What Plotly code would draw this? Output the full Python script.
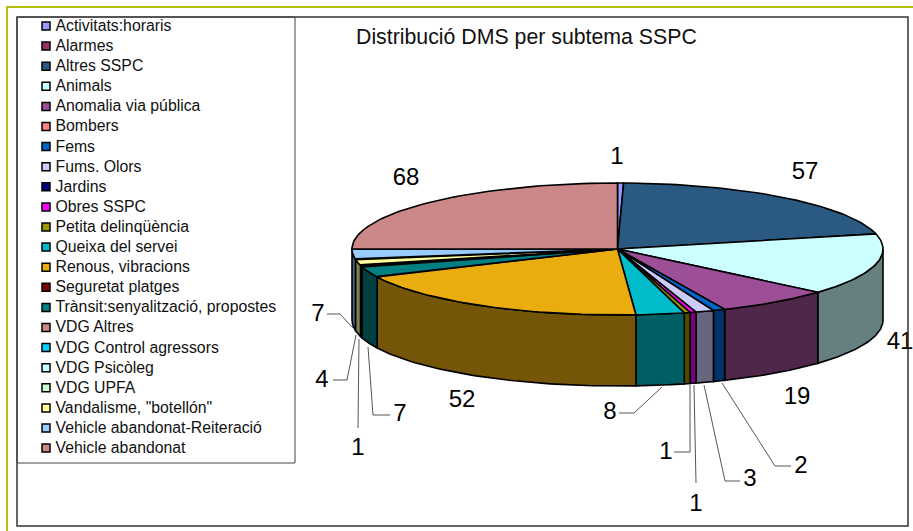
# -*- coding: utf-8 -*-
"""Distribució DMS per subtema SSPC: tilted pie with a thick rim."""
import numpy as np
import plotly.graph_objects as go

WIDTH, HEIGHT = 913, 531

categories = [
    'Activitats:horaris', 'Alarmes', 'Altres SSPC', 'Animals', 'Anomalia via pública',
    'Bombers', 'Fems', 'Fums. Olors', 'Jardins', 'Obres SSPC', 'Petita delinqüència',
    'Queixa del servei', 'Renous, vibracions', 'Seguretat platges',
    'Trànsit:senyalització, propostes', 'VDG Altres', 'VDG Control agressors',
    'VDG Psicòleg', 'VDG UPFA', 'Vandalisme, "botellón"',
    'Vehicle abandonat-Reiteració', 'Vehicle abandonat',
]
values = [1, 0, 57, 41, 19, 0, 2, 3, 0, 1, 1, 8, 52, 0, 7, 0, 0, 1, 0, 4, 7, 68]
colors = [
    '#9999FF', '#993366', '#2A5A82', '#CCFFFF', '#9C4F96', '#FF8080', '#0066CC',
    '#CCCCFF', '#000080', '#FF00FF', '#999900', '#00BCCB', '#EAAD10', '#800000',
    '#008080', '#CC8888', '#00CCFF', '#CCFFFF', '#CCFFCC', '#FFFF99', '#99CCFF',
    '#CC8888',
]

# pie geometry in page pixels
CX, CY, RX, RY, DEPTH = 617.5, 249, 265.5, 66, 71


def darker(hex_color):
    r, g, b = (int(hex_color[i:i + 2], 16) for i in (1, 3, 5))
    return f'rgb({r // 2},{g // 2},{b // 2})'


def rim(a0, a1, n=60):
    # angles clockwise from the top of the ellipse
    t = np.linspace(a0, a1, n)
    return CX + RX * np.sin(t), CY - RY * np.cos(t)


fig = go.Figure()

total = sum(values)
ends = np.cumsum(values) / total * 2 * np.pi
starts = ends - np.array(values) / total * 2 * np.pi

# 1. Side wall, only the part of each slice facing the viewer
for v, c, a0, a1 in zip(values, colors, starts, ends):
    lo, hi = max(a0, np.pi / 2), min(a1, 3 * np.pi / 2)
    if v == 0 or hi <= lo:
        continue
    x, y = rim(lo, hi)
    fig.add_trace(go.Scatter(
        x=np.r_[x, x[::-1], x[0]], y=np.r_[y, y[::-1] + DEPTH, y[0]],
        mode='lines', fill='toself', fillcolor=darker(c),
        line=dict(color='black', width=1.6),
    ))

# 2. Top face
for v, c, a0, a1 in zip(values, colors, starts, ends):
    if v == 0:
        continue
    x, y = rim(a0, a1)
    fig.add_trace(go.Scatter(
        x=np.r_[CX, x, CX], y=np.r_[CY, y, CY],
        mode='lines', fill='toself', fillcolor=c,
        line=dict(color='black', width=1.6),
    ))

# 3. Leader lines
leaders = [
    ([722, 775, 791], [383, 466, 466]),
    ([704, 725, 740], [385, 481, 481]),
    ([694, 696], [385, 483]),
    ([690, 690, 674], [385, 452, 452]),
    ([662, 634, 619], [387, 413, 413]),
    ([368, 373, 390], [347, 415, 415]),
    ([359, 358], [339, 428]),
    ([356, 347, 333], [335, 380, 380]),
    ([353, 340, 327], [328, 314, 314]),
]
for lx, ly in leaders:
    fig.add_trace(go.Scatter(x=lx, y=ly, mode='lines', line=dict(color='#555555', width=1)))

# 4. Value labels
label_text = ['1', '57', '41', '19', '2', '3', '1', '1', '8', '52', '7', '1', '4', '7', '68']
label_x = [617, 805, 900, 797, 801, 750, 696, 666, 610, 462, 400, 358, 322, 318, 406]
label_y = [158, 173, 343, 398, 467, 480, 505, 453, 413, 401, 415, 449, 381, 315, 179]
fig.add_trace(go.Scatter(
    x=label_x, y=label_y, mode='text', text=label_text,
    textfont=dict(family='Liberation Sans', size=24, color='black'),
    cliponaxis=False,
))

# 5. Legend, hand placed inside its own box
legend_y = [26 + 20.1 * i for i in range(len(categories))]
fig.add_trace(go.Scatter(
    x=[46] * len(categories), y=legend_y, mode='markers',
    marker=dict(symbol='square', size=8, color=colors, line=dict(color='black', width=1.5)),
))
fig.add_trace(go.Scatter(
    x=[55.5] * len(categories), y=[v + 1 for v in legend_y], mode='text', text=categories,
    textposition='middle right',
    textfont=dict(family='Liberation Sans', size=15.8, color='#111111'),
))

fig.add_annotation(
    x=354, y=37, xanchor='left', yanchor='middle', showarrow=False,
    text='Distribució DMS per subtema SSPC',
    font=dict(family='Liberation Sans', size=21.3, color='#111111'),
)

# frames
fig.add_shape(type='line', x0=7, x1=7, y0=7, y1=531, line=dict(color='#B5BD10', width=2))
fig.add_shape(type='line', x0=6, x1=913, y0=7, y1=7, line=dict(color='#B5BD10', width=2))
fig.add_shape(type='rect', x0=17, x1=908, y0=17, y1=526, line=dict(color='#333333', width=1.5))
fig.add_shape(type='rect', x0=17, x1=295, y0=17, y1=463, line=dict(color='#444444', width=1))

fig.update_layout(
    width=WIDTH, height=HEIGHT,
    margin=dict(l=0, r=0, t=0, b=0),
    paper_bgcolor='white', plot_bgcolor='white',
    showlegend=False, hovermode=False,
    xaxis=dict(range=[0, WIDTH], visible=False, fixedrange=True),
    yaxis=dict(range=[HEIGHT, 0], visible=False, fixedrange=True),
)

fig.write_html("out.html", config=dict(displayModeBar=False),
               post_script="document.body.style.margin='0';")
